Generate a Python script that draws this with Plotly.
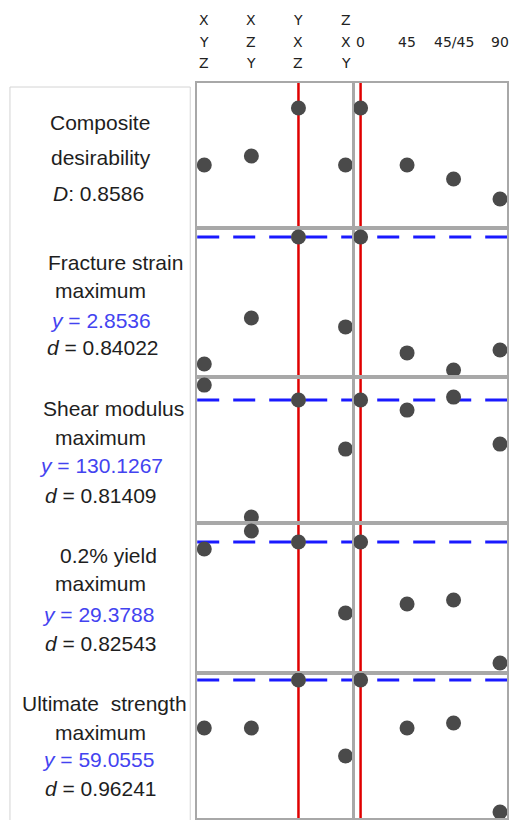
import plotly.graph_objects as go

# ---------------- data ----------------
orientations = ["XYZ", "XZY", "YXZ", "ZXY"]
orientation_letters = [["X", "Y", "Z"], ["X", "Z", "Y"], ["Y", "X", "Z"], ["Z", "X", "Y"]]
raster_angles = ["0", "45", "45/45", "90"]
best_orientation = "YXZ"
best_raster = "0"

row_titles = ["Composite", "Fracture strain", "Shear modulus", "0.2% yield", "Ultimate&nbsp; strength"]
goal = ["desirability", "maximum", "maximum", "maximum", "maximum"]
optimum_y = [0.8586, 2.8536, 130.1267, 29.3788, 59.0555]
indiv_d = [None, 0.84022, 0.81409, 0.82543, 0.96241]

composite_orient = [0.536, 0.587, 0.8586, 0.536]
composite_raster = [0.8586, 0.536, 0.457, 0.344]
fracture_orient = [1.774, 2.165, 2.8536, 2.089]
fracture_raster = [2.8536, 1.868, 1.723, 1.893]
shear_orient = [134.6, 95.0, 130.1267, 115.4]
shear_raster = [130.1267, 127.1, 131.0, 116.9]
yield_orient = [29.03, 29.93, 29.3788, 25.83]
yield_raster = [29.3788, 26.28, 26.48, 23.33]
ultimate_orient = [54.26, 54.26, 59.0555, 51.46]
ultimate_raster = [59.0555, 54.26, 54.76, 45.86]

orient_series = [composite_orient, fracture_orient, shear_orient, yield_orient, ultimate_orient]
raster_series = [composite_raster, fracture_raster, shear_raster, yield_raster, ultimate_raster]
y_ranges = [[0.18, 1.0], [1.663, 2.93], [93.23, 137.03], [22.83, 30.33], [45.26, 59.76]]

# ---------------- layout geometry ----------------
W, H = 509, 820
col_dom = [[198 / W, 354 / W], [355 / W, 1.0]]
row_px = [(83, 228), (228, 377), (377, 523), (523, 673), (673, 818)]
row_dom = [[1 - b / H, 1 - t / H] for t, b in row_px]

def py(p):
    return 1 - p / H

fig = go.Figure()
layout = {}
frame = dict(showline=True, mirror=True, linecolor="#a8a8a8", linewidth=2,
             showgrid=False, zeroline=False, showticklabels=False, ticks="", fixedrange=True)

for r in range(5):
    for c in range(2):
        k = r * 2 + c + 1
        xn = "x" if k == 1 else f"x{k}"
        yn = "y" if k == 1 else f"y{k}"
        cats = orientations if c == 0 else raster_angles
        vals = orient_series[r] if c == 0 else raster_series[r]
        fig.add_trace(go.Scatter(x=cats, y=vals, xaxis=xn, yaxis=yn, mode="markers",
                                 marker=dict(size=15, color="#4a4a4a"),
                                 cliponaxis=False, showlegend=False, hoverinfo="skip"))
        layout["xaxis" if k == 1 else f"xaxis{k}"] = dict(frame, domain=col_dom[c], range=[-0.15, 3.15],
                                                           type="category", anchor=yn,
                                                           categoryorder="array", categoryarray=cats)
        layout["yaxis" if k == 1 else f"yaxis{k}"] = dict(frame, domain=row_dom[r], range=y_ranges[r], anchor=xn)

shapes = []
# left label box
shapes.append(dict(type="rect", xref="paper", yref="paper", x0=10 / W, x1=191 / W, y0=-0.05, y1=py(87),
                   line=dict(color="#d4d4d4", width=1), layer="below"))
# optimum dashed lines
for r in range(1, 5):
    yn = f"y{r * 2 + 1}"
    shapes.append(dict(type="line", xref="paper", yref=yn, x0=198 / W, x1=1.0,
                       y0=optimum_y[r], y1=optimum_y[r],
                       line=dict(color="#1a1aff", width=3, dash="22px,14px"), layer="below"))
# red current-setting lines
shapes.append(dict(type="line", xref="x", yref="paper", x0=orientations.index(best_orientation),
                   x1=orientations.index(best_orientation), y0=py(818), y1=py(83),
                   line=dict(color="#e00000", width=2.5), layer="below"))
shapes.append(dict(type="line", xref="x2", yref="paper", x0=raster_angles.index(best_raster),
                   x1=raster_angles.index(best_raster), y0=py(818), y1=py(83),
                   line=dict(color="#e00000", width=2.5), layer="below"))

ann = []
tickfont = dict(family="DejaVu Sans, sans-serif", size=14, color="#222222")
line_y = [20, 42, 63]
for i, letters in enumerate(orientation_letters):
    for j, ch in enumerate(letters):
        ann.append(dict(xref="x", yref="paper", x=i, y=py(line_y[j]), text=ch, showarrow=False,
                        font=tickfont, xanchor="center", yanchor="middle"))
for i, lab in enumerate(raster_angles):
    ann.append(dict(xref="x2", yref="paper", x=i, y=py(42), text=lab, showarrow=False,
                    font=tickfont, xanchor="center", yanchor="middle"))

lab_font = dict(family="Liberation Sans, Arial, sans-serif", size=21, color="#1e1e1e")
blue_font = dict(lab_font, color="#4343f0")
# row label positions (center x, line y's)
label_pos = [
    [(100, 122), (101, 158), (99, 193)],
    [(116, 262), (101, 290), (101, 320), (103, 348)],
    [(114, 408), (101, 437), (101, 466), (101, 495)],
    [(109, 555), (101, 583), (98, 614), (101, 643)],
    [(105, 703), (101, 732), (98, 759), (101, 788)],
]
for r in range(5):
    if r == 0:
        texts = [(row_titles[0], lab_font), (goal[0], lab_font),
                 (f"<i>D</i>: {optimum_y[0]:.4f}", lab_font)]
    else:
        texts = [(row_titles[r], lab_font), (goal[r], lab_font),
                 (f"<i>y</i> = {optimum_y[r]:.4f}", blue_font),
                 (f"<i>d</i> = {indiv_d[r]:.5f}", lab_font)]
    for (cx, cy), (t, f) in zip(label_pos[r], texts):
        ann.append(dict(xref="paper", yref="paper", x=cx / W, y=py(cy), text=t, showarrow=False,
                        font=f, xanchor="center", yanchor="middle"))

fig.update_layout(**layout)
fig.update_layout(width=W, height=H, margin=dict(l=0, r=0, t=0, b=0),
                  paper_bgcolor="white", plot_bgcolor="rgba(0,0,0,0)",
                  shapes=shapes, annotations=ann, showlegend=False)

fig.write_html("out.html", config={"displayModeBar": False})
